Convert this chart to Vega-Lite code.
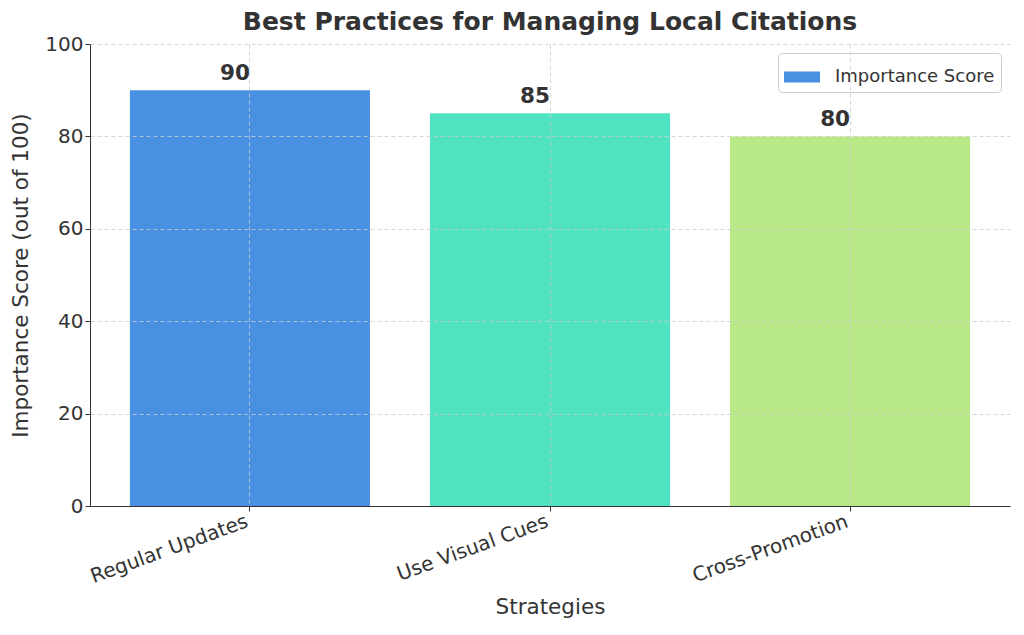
{
  "$schema": "https://vega.github.io/schema/vega-lite/v6.json",
  "width": 920,
  "height": 462,
  "autosize": {"type": "none"},
  "padding": {"left": 90, "top": 44, "right": 14, "bottom": 129},
  "background": "white",
  "config": {
    "font": "DejaVu Sans",
    "view": {"stroke": null},
    "axis": {
      "labelColor": "#333333",
      "titleColor": "#333333",
      "labelFont": "DejaVu Sans",
      "titleFont": "DejaVu Sans",
      "titleFontWeight": "normal",
      "labelFontSize": 20,
      "titleFontSize": 21.5,
      "domainColor": "#333333",
      "tickColor": "#333333",
      "tickSize": 5,
      "gridColor": "#cccccc",
      "gridDash": [4, 3],
      "gridWidth": 0.8
    }
  },
  "title": {
    "text": "Best Practices for Managing Local Citations",
    "font": "DejaVu Sans",
    "fontSize": 25,
    "fontWeight": "bold",
    "color": "#333333",
    "anchor": "middle",
    "offset": -1
  },
  "data": {
    "values": [
      {"strategy": "Regular Updates", "score": 90},
      {"strategy": "Use Visual Cues", "score": 85},
      {"strategy": "Cross-Promotion", "score": 80}
    ]
  },
  "encoding": {
    "x": {
      "field": "strategy",
      "type": "nominal",
      "sort": null,
      "title": "Strategies",
      "scale": {"paddingInner": 0.2, "paddingOuter": 0.133},
      "axis": {
        "labelAngle": -20,
        "labelAlign": "right",
        "labelBaseline": "top",
        "labelOffset": -6,
        "labelPadding": 0,
        "bandPosition": 0.5,
        "grid": true,
        "zindex": 1,
        "titlePadding": 10
      }
    },
    "y": {
      "field": "score",
      "type": "quantitative",
      "title": "Importance Score (out of 100)",
      "scale": {"domain": [0, 100], "nice": false},
      "axis": {
        "values": [0, 20, 40, 60, 80, 100],
        "grid": true,
        "zindex": 1,
        "titlePadding": 12
      }
    }
  },
  "layer": [
    {
      "mark": {"type": "bar"},
      "encoding": {
        "fill": {
          "field": "strategy",
          "type": "nominal",
          "scale": {
            "domain": ["Regular Updates", "Use Visual Cues", "Cross-Promotion"],
            "range": ["#4a90e2", "#50e3c2", "#b8e986"]
          },
          "legend": null
        }
      }
    },
    {
      "mark": {"type": "bar", "opacity": 0},
      "encoding": {
        "color": {
          "datum": "Importance Score",
          "type": "nominal",
          "scale": {"range": ["#4a90e2"]},
          "legend": {
            "title": null,
            "orient": "none",
            "legendX": 688,
            "legendY": 9,
            "symbolType": "M-1,-0.3L1,-0.3L1,0.3L-1,0.3Z",
            "symbolSize": 1296,
            "symbolOpacity": 1,
            "symbolStrokeWidth": 0,
            "labelFontSize": 18,
            "labelColor": "#333333",
            "labelFont": "DejaVu Sans",
            "labelOffset": 15,
            "fillColor": "white",
            "strokeColor": "#cccccc",
            "cornerRadius": 4,
            "padding": 6
          }
        }
      }
    },
    {
      "mark": {
        "type": "text",
        "align": "right",
        "baseline": "alphabetic",
        "dy": -10,
        "fontSize": 21.5,
        "fontWeight": "bold",
        "color": "#333333",
        "font": "DejaVu Sans"
      },
      "encoding": {
        "text": {"field": "score", "type": "quantitative"}
      }
    }
  ]
}
